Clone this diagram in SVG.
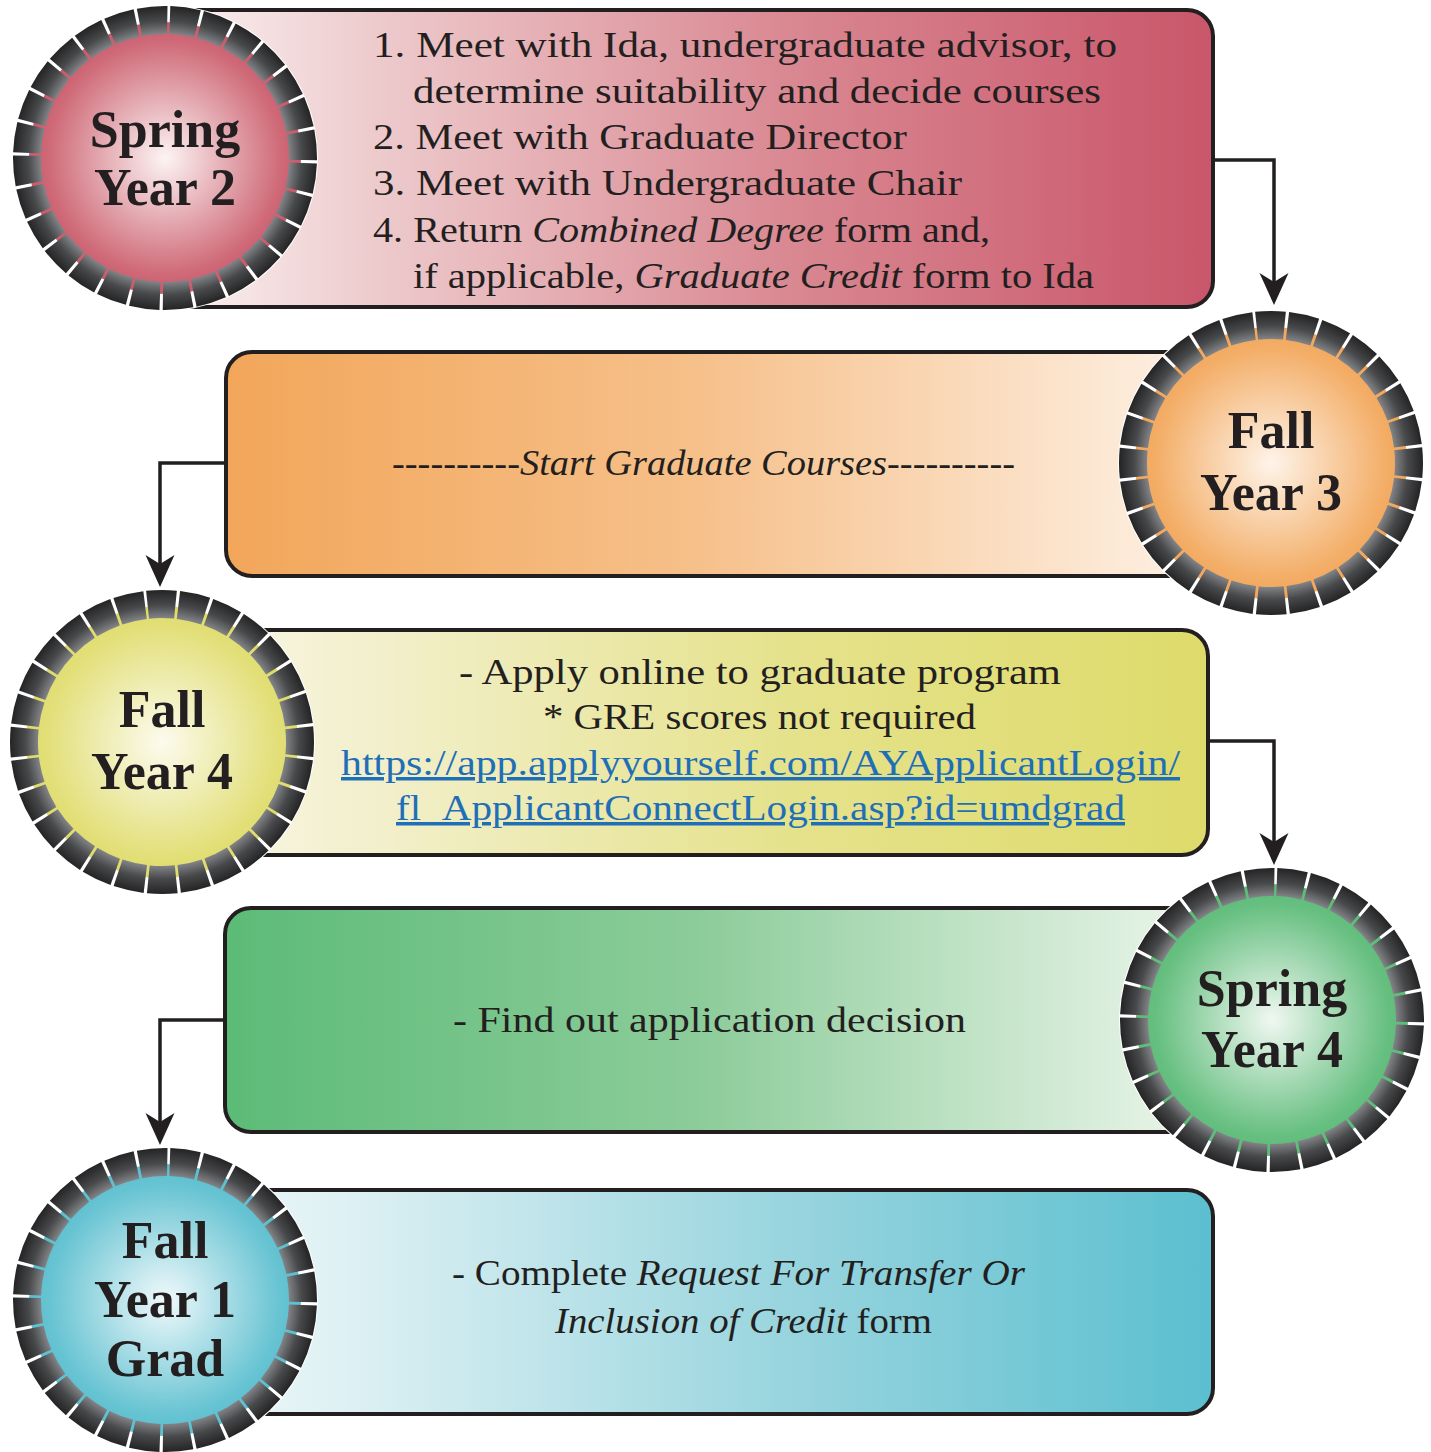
<svg xmlns="http://www.w3.org/2000/svg" width="1431" height="1452" viewBox="0 0 1431 1452">
<defs>
<style>
.box{stroke:#231f20;stroke-width:4}
.t{font-family:"Liberation Serif","Times New Roman",serif;font-size:35px;fill:#231f20}
.i{font-style:italic}
.lbl{font-family:"Liberation Serif","Times New Roman",serif;font-size:52px;font-weight:bold;fill:#231f20;text-anchor:middle}
.url{fill:#1f6fb8;text-decoration:underline}
.ring{fill:none;stroke:url(#ringG);stroke-width:28;stroke-dasharray:27.97 3}
.conn{fill:none;stroke:#231f20;stroke-width:3.5;stroke-linejoin:miter}
</style>
<radialGradient id="ringG" gradientUnits="userSpaceOnUse" cx="0" cy="0" r="152">
<stop offset="0.81" stop-color="#85878a"/>
<stop offset="0.9" stop-color="#48494b"/>
<stop offset="1" stop-color="#242425"/>
</radialGradient>
<linearGradient id="bRed" x1="0" y1="0" x2="1" y2="0">
<stop offset="0" stop-color="#fbf2f2"/><stop offset="0.2" stop-color="#edcacc"/><stop offset="0.6" stop-color="#d98791"/><stop offset="1" stop-color="#c9566a"/>
</linearGradient>
<linearGradient id="bOrange" x1="0" y1="0" x2="1" y2="0">
<stop offset="0" stop-color="#f2a65a"/><stop offset="0.45" stop-color="#f6c08a"/><stop offset="0.9" stop-color="#fdeedf"/><stop offset="1" stop-color="#fff8f1"/>
</linearGradient>
<linearGradient id="bYellow" x1="0" y1="0" x2="1" y2="0">
<stop offset="0" stop-color="#fbfaee"/><stop offset="0.15" stop-color="#f4f1d4"/><stop offset="0.6" stop-color="#e5e28c"/><stop offset="1" stop-color="#dedb6b"/>
</linearGradient>
<linearGradient id="bGreen" x1="0" y1="0" x2="1" y2="0">
<stop offset="0" stop-color="#5cbb77"/><stop offset="0.45" stop-color="#8ccc9a"/><stop offset="0.9" stop-color="#e6f3e6"/><stop offset="1" stop-color="#f6faf4"/>
</linearGradient>
<linearGradient id="bBlue" x1="0" y1="0" x2="1" y2="0">
<stop offset="0" stop-color="#f2f9fa"/><stop offset="0.18" stop-color="#dcf0f3"/><stop offset="0.6" stop-color="#97d4de"/><stop offset="1" stop-color="#5bbfcf"/>
</linearGradient>
<radialGradient id="cRed" gradientUnits="userSpaceOnUse" cx="0" cy="0" r="137">
<stop offset="0" stop-color="#fcf4f4"/><stop offset="0.85" stop-color="#cf6a78"/><stop offset="1" stop-color="#c9576a"/>
</radialGradient>
<radialGradient id="cOrange" gradientUnits="userSpaceOnUse" cx="0" cy="0" r="137">
<stop offset="0" stop-color="#fef4ea"/><stop offset="0.85" stop-color="#f3ad66"/><stop offset="1" stop-color="#f2a65a"/>
</radialGradient>
<radialGradient id="cYellow" gradientUnits="userSpaceOnUse" cx="0" cy="0" r="137">
<stop offset="0" stop-color="#fcfbee"/><stop offset="0.85" stop-color="#e2df78"/><stop offset="1" stop-color="#dedb6a"/>
</radialGradient>
<radialGradient id="cGreen" gradientUnits="userSpaceOnUse" cx="0" cy="0" r="137">
<stop offset="0" stop-color="#f0f8f1"/><stop offset="0.85" stop-color="#66bf80"/><stop offset="1" stop-color="#5cbb77"/>
</radialGradient>
<radialGradient id="cBlue" gradientUnits="userSpaceOnUse" cx="0" cy="0" r="137">
<stop offset="0" stop-color="#f0f9fb"/><stop offset="0.85" stop-color="#66c3d2"/><stop offset="1" stop-color="#5bbfcf"/>
</radialGradient>
<marker id="arr" markerUnits="userSpaceOnUse" viewBox="-34 -16 36 32" markerWidth="36" markerHeight="32" refX="-20" refY="0" orient="auto">
<path d="M0,0 L-32,-14.5 L-23,0 L-32,14.5 Z" fill="#231f20"/>
</marker>
</defs>
<rect width="1431" height="1452" fill="#ffffff"/>

<g id="connectors">
<path class="conn" d="M1213,160 H1274 V285" marker-end="url(#arr)"/>
<path class="conn" d="M226,463 H160 V567" marker-end="url(#arr)"/>
<path class="conn" d="M1208,741 H1274 V845" marker-end="url(#arr)"/>
<path class="conn" d="M225,1020 H160 V1125" marker-end="url(#arr)"/>
</g>

<g id="node-spring-year2">
<rect class="box" x="170" y="10" width="1043" height="297" rx="26" fill="url(#bRed)"/>
<text class="t" x="373" y="57" textLength="744" lengthAdjust="spacingAndGlyphs">1. Meet with Ida, undergraduate advisor, to</text>
<text class="t" x="413" y="103" textLength="688" lengthAdjust="spacingAndGlyphs">determine suitability and decide courses</text>
<text class="t" x="373" y="149" textLength="534" lengthAdjust="spacingAndGlyphs">2. Meet with Graduate Director</text>
<text class="t" x="373" y="195" textLength="589" lengthAdjust="spacingAndGlyphs">3. Meet with Undergraduate Chair</text>
<text class="t" x="373" y="242" textLength="617" lengthAdjust="spacingAndGlyphs">4. Return <tspan class="i">Combined Degree</tspan> form and,</text>
<text class="t" x="413" y="288" textLength="681" lengthAdjust="spacingAndGlyphs">if applicable, <tspan class="i">Graduate Credit</tspan> form to Ida</text>
<g transform="translate(165,158)">
<circle r="153" fill="#ffffff"/>
<circle r="136" fill="url(#cRed)"/>
<circle class="ring" r="138" transform="rotate(-88)"/>
<text class="lbl" x="0" y="-11">Spring</text>
<text class="lbl" x="0" y="47">Year 2</text>
</g>
</g>

<g id="node-fall-year3">
<rect class="box" x="226" y="352" width="1050" height="224" rx="26" fill="url(#bOrange)"/>
<text class="t i" x="392" y="475" textLength="623" lengthAdjust="spacingAndGlyphs">----------Start Graduate Courses----------</text>
<g transform="translate(1271,463)">
<circle r="153" fill="#ffffff"/>
<circle r="136" fill="url(#cOrange)"/>
<circle class="ring" r="138" transform="rotate(-96)"/>
<text class="lbl" x="0" y="-15">Fall</text>
<text class="lbl" x="0" y="47">Year 3</text>
</g>
</g>

<g id="node-fall-year4">
<rect class="box" x="165" y="630" width="1043" height="225" rx="26" fill="url(#bYellow)"/>
<text class="t" x="459" y="684" textLength="602" lengthAdjust="spacingAndGlyphs">- Apply online to graduate program</text>
<text class="t" x="543" y="729" textLength="433" lengthAdjust="spacingAndGlyphs">* GRE scores not required</text>
<text class="t url" x="341" y="775" textLength="839" lengthAdjust="spacingAndGlyphs">https://app.applyyourself.com/AYApplicantLogin/</text>
<text class="t url" x="396" y="820" textLength="729" lengthAdjust="spacingAndGlyphs">fl_ApplicantConnectLogin.asp?id=umdgrad</text>
<g transform="translate(162,742)">
<circle r="153" fill="#ffffff"/>
<circle r="136" fill="url(#cYellow)"/>
<circle class="ring" r="138" transform="rotate(-96)"/>
<text class="lbl" x="0" y="-15">Fall</text>
<text class="lbl" x="0" y="47">Year 4</text>
</g>
</g>

<g id="node-spring-year4">
<rect class="box" x="225" y="908" width="1050" height="224" rx="26" fill="url(#bGreen)"/>
<text class="t" x="453" y="1032" textLength="513" lengthAdjust="spacingAndGlyphs">- Find out application decision</text>
<g transform="translate(1272,1020)">
<circle r="153" fill="#ffffff"/>
<circle r="136" fill="url(#cGreen)"/>
<circle class="ring" r="138" transform="rotate(-88)"/>
<text class="lbl" x="0" y="-14">Spring</text>
<text class="lbl" x="0" y="47">Year 4</text>
</g>
</g>

<g id="node-fall-year1-grad">
<rect class="box" x="170" y="1190" width="1043" height="224" rx="26" fill="url(#bBlue)"/>
<text class="t" x="452" y="1285" textLength="573" lengthAdjust="spacingAndGlyphs">- Complete <tspan class="i">Request For Transfer Or</tspan></text>
<text class="t" x="555" y="1333" textLength="377" lengthAdjust="spacingAndGlyphs"><tspan class="i">Inclusion of Credit</tspan> form</text>
<g transform="translate(165,1300)">
<circle r="153" fill="#ffffff"/>
<circle r="136" fill="url(#cBlue)"/>
<circle class="ring" r="138" transform="rotate(-88)"/>
<text class="lbl" x="0" y="-42">Fall</text>
<text class="lbl" x="0" y="17">Year 1</text>
<text class="lbl" x="0" y="76">Grad</text>
</g>
</g>
</svg>
